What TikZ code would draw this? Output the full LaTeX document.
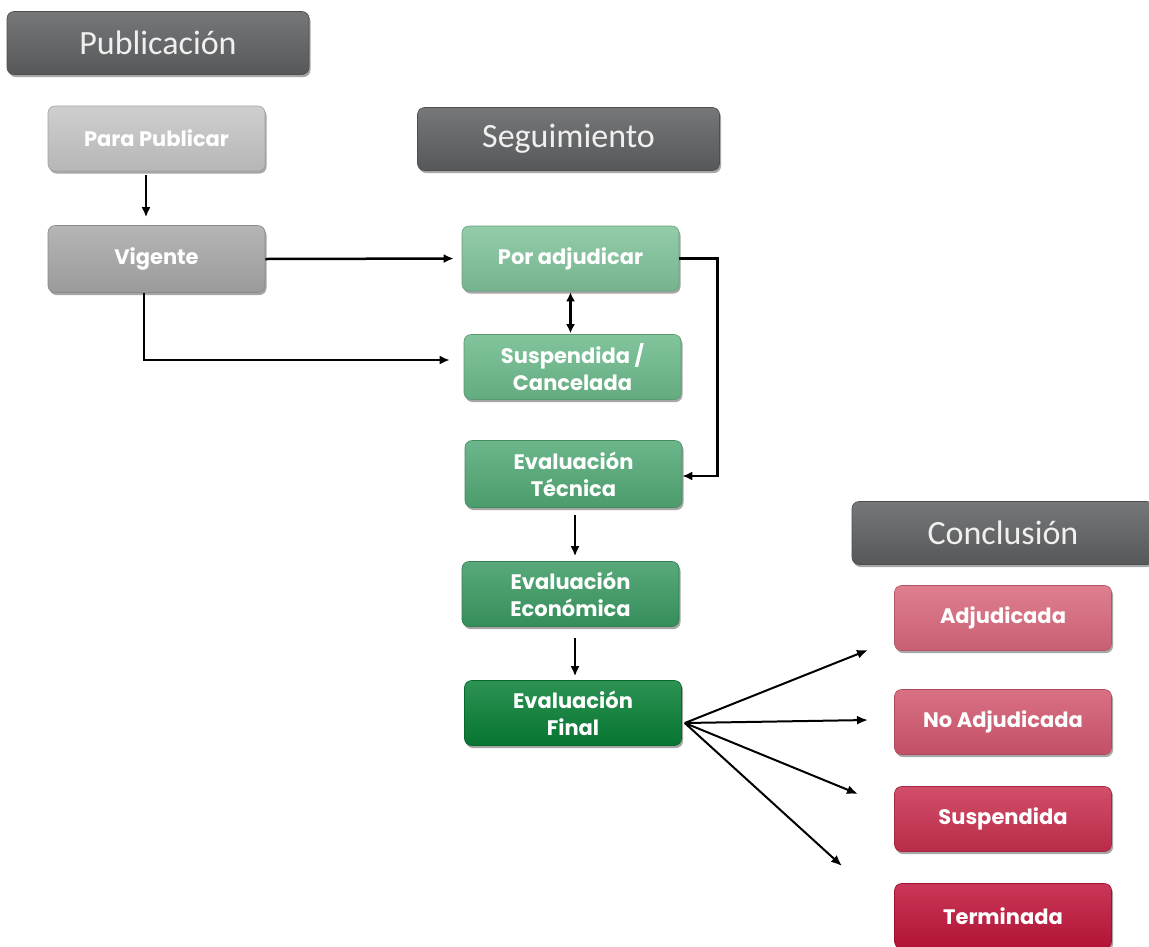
\documentclass[tikz,border=0pt]{standalone}
\usepackage{fontspec}
\setmainfont{Poppins}
\newfontfamily\headfont{Carlito}
\usetikzlibrary{shadows,arrows.meta}

\definecolor{headgray}{HTML}{5E5F61}
\definecolor{grayA}{HTML}{C6C6C6}
\definecolor{grayB}{HTML}{A8A8A8}
\definecolor{greenA}{HTML}{80C39A}
\definecolor{greenB}{HTML}{6CBA8B}
\definecolor{greenC}{HTML}{52A976}
\definecolor{greenD}{HTML}{3A9A62}
\definecolor{greenE}{HTML}{077F35}
\definecolor{redA}{HTML}{D9687C}
\definecolor{redB}{HTML}{D3576F}
\definecolor{redC}{HTML}{C92F4F}
\definecolor{redD}{HTML}{C0143A}

\tikzset{
  shaded/.style={top color=#1!85!white, middle color=#1, bottom color=#1!92!black,
    draw=#1!82!black, line width=0.6pt},
  basebox/.style={rounded corners=7pt, inner sep=0pt, align=center,
    drop shadow={shadow xshift=1.5pt, shadow yshift=-2.5pt, opacity=0.35, fill=black}},
  header/.style={basebox, shaded=headgray, minimum width=302pt, minimum height=63pt,
    text=white!94!black, font=\headfont\fontsize{34}{40}\selectfont},
  stage/.style={basebox, shaded=#1, minimum width=217pt, minimum height=65pt,
    text=white, font=\bfseries\fontsize{21}{27}\selectfont},
  conn/.style={line width=2.5pt, -{Latex[length=10pt,width=9pt]}},
  fanline/.style={line width=2pt, -{Latex[length=11pt,width=9pt]}},
}

\begin{document}
\begin{tikzpicture}[x=1pt,y=-1pt]
\useasboundingbox[fill=white] (0,0) rectangle (1149,946);

% column headers
\node[header] (hpub) at (158,43) {Publicación};
\node[header] (hseg) at (568.5,139) {Seguimiento};
\node[header] (hcon) at (1003,533) {Conclusión};

% publication stages
\node[stage=grayA] (para) at (156.5,138.5) {Para Publicar};
\node[stage=grayB, minimum height=67pt] (vig) at (156.5,259) {Vigente};

% follow-up stages
\node[stage=greenA] (poradj) at (570.5,258.5) {Por adjudicar};
\node[stage=greenB] (susp) at (572.5,367) {Suspendida /\\Cancelada};
\node[stage=greenC, minimum height=67pt] (tec) at (573.5,474) {Evaluación\\Técnica};
\node[stage=greenD] (eco) at (570.5,594) {Evaluación\\Económica};
\node[stage=greenE] (fin) at (573,713) {Evaluación\\Final};

% outcomes
\node[stage=redA] (adj) at (1003,618) {Adjudicada};
\node[stage=redB] (noadj) at (1003,722) {No Adjudicada};
\node[stage=redC] (susf) at (1003,819) {Suspendida};
\node[stage=redD] (term) at (1003,916) {Terminada};

% connectors
\draw[conn, shorten <=4pt, shorten >=8pt] ([xshift=-10.5pt]para.south) -- ([xshift=-10.5pt]vig.north);
\draw[conn, shorten >=8pt] (vig.east) -- (poradj.west);
\draw[conn, shorten >=14pt] ([xshift=-12.5pt]vig.south) |- ([yshift=7pt]susp.west);
\draw[line width=2.5pt, {Latex[length=9pt,width=9pt]}-{Latex[length=9pt,width=9pt]}, shorten <=1pt, shorten >=1pt]
  (poradj.south) -- (poradj.south |- susp.north);
\draw[conn] (poradj.east) -- ++(38,0) |- ([yshift=-2pt]tec.east);
\draw[conn, shorten <=7pt, shorten >=5pt] ([xshift=1.5pt]tec.south) -- ([xshift=4.5pt]eco.north);
\draw[conn, shorten <=11pt, shorten >=4pt] ([xshift=4.5pt]eco.south) -- ([xshift=2pt]fin.north);

% fan of outcome arrows
\coordinate (fan) at ([shift={(3,10)}]fin.east);
\coordinate (o1) at (868,650);
\coordinate (o2) at (868,720);
\coordinate (o3) at (858,794);
\coordinate (o4) at (842,866);
\foreach \o in {o1,o2,o3,o4}
  \draw[fanline] (fan) -- (\o);
\end{tikzpicture}
\end{document}
